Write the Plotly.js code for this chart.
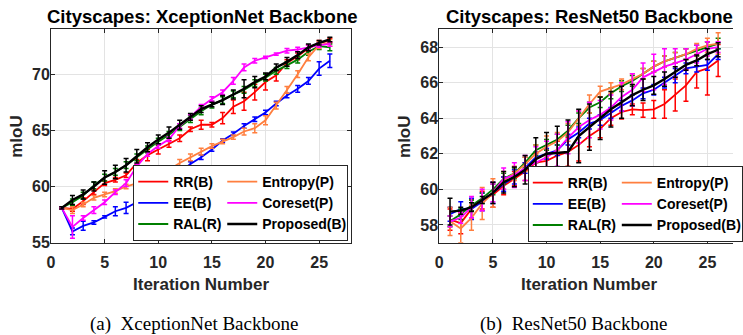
<!DOCTYPE html>
<html>
<head>
<meta charset="utf-8">
<script src="https://cdn.plot.ly/plotly-3.0.1.min.js"></script>
<style>html,body{margin:0;padding:0;background:#fff;}#chart{width:743px;height:335px;}</style>
</head>
<body>
<div id="chart"></div>
<script>
// ---------- data ----------
const iterations = [1,2,3,4,5,6,7,8,9,10,11,12,13,14,15,16,17,18,19,20,21,22,23,24,25,26];
const seriesNames = ['RR(B)','EE(B)','RAL(R)','Entropy(P)','Coreset(P)','Proposed(B)'];

// (a) XceptionNet backbone: mean mIoU
const xcRR       = [58.1,58.0,58.7,59.5,60.3,60.6,61.0,62.1,62.8,63.3,63.8,64.3,65.1,65.5,65.5,66.1,67.1,67.6,68.4,69.3,69.9,71.0,71.6,72.3,72.8,73.0];
const xcEE       = [58.1,56.0,56.5,56.8,57.3,57.8,58.1,58.6,59.3,60.0,60.7,61.3,62.0,62.6,63.3,64.1,64.7,65.4,66.0,66.6,67.4,68.1,68.7,69.4,70.5,71.2];
const xcRAL      = [58.1,58.6,59.2,60.1,60.8,61.3,61.9,62.6,63.3,64.0,64.6,65.3,66.0,66.7,67.3,67.7,68.2,68.6,69.2,69.7,70.3,70.8,71.3,72.0,72.5,72.4];
const xcEntropy  = [58.1,57.9,58.4,59.0,59.3,59.6,60.0,60.3,60.6,61.0,61.5,62.1,62.6,63.1,63.6,64.0,64.4,64.9,65.2,65.9,67.2,68.6,70.0,71.5,72.6,72.8];
const xcCoreset  = [58.1,56.4,57.2,57.9,58.6,59.5,60.3,61.8,62.9,63.6,64.2,65.4,66.2,67.1,67.8,68.4,69.4,70.6,71.2,71.5,71.8,72.1,72.2,72.4,72.6,72.7];
const xcProposed = [58.1,58.8,59.3,60.0,60.8,61.3,61.9,62.7,63.5,64.2,64.8,65.5,66.2,66.9,67.3,67.7,68.2,68.7,69.3,69.8,70.6,71.1,71.7,72.4,72.8,73.1];
// (a) error bar half-widths
const xcRRErr       = [0.1,0.2,0.3,0.2,0.2,0.2,0.2,0.3,0.5,0.4,0.3,0.3,0.2,0.4,0.2,0.5,0.6,0.8,0.7,0.7,0.5,0.3,0.3,0.3,0.2,0.2];
const xcEEErr       = [0.1,0.3,0.4,0.15,0.1,0.4,0.5,0.4,0.3,0.3,0.3,0.15,0.2,0.2,0.15,0.15,0.15,0.2,0.2,0.2,0.2,0.2,0.3,0.3,0.6,0.6];
const xcRALErr      = [0.1,0.3,0.3,0.3,0.3,0.3,0.3,0.3,0.3,0.3,0.3,0.3,0.3,0.3,0.3,0.3,0.3,0.3,0.3,0.3,0.3,0.3,0.3,0.3,0.3,0.3];
const xcEntropyErr  = [0.1,0.3,0.2,0.2,0.2,0.2,0.2,0.2,0.2,0.2,0.3,0.3,0.3,0.3,0.2,0.2,0.2,0.3,0.4,0.4,0.3,0.3,0.3,0.3,0.3,0.3];
const xcCoresetErr  = [0.1,1.0,0.2,0.3,0.2,0.2,0.3,0.2,0.2,0.2,0.2,0.2,0.2,0.2,0.2,0.2,0.3,0.3,0.2,0.1,0.1,0.2,0.2,0.2,0.2,0.2];
const xcProposedErr = [0.1,0.4,0.4,0.4,0.6,0.6,0.6,0.6,0.4,0.4,0.5,0.4,0.3,0.3,0.2,0.4,0.4,0.8,0.5,0.3,0.3,0.4,0.3,0.3,0.2,0.2];

// (b) ResNet50 backbone: mean mIoU
const rnRR       = [58.3,58.1,58.9,59.4,59.7,60.2,60.6,61.0,61.5,61.6,61.9,62.1,62.5,63.0,63.4,64.0,64.35,64.5,64.45,64.5,64.8,65.3,65.85,66.6,66.8,67.25];
const rnEE       = [58.6,58.9,58.9,59.3,59.8,60.3,60.7,61.2,61.8,62.0,62.2,62.8,63.2,63.7,63.9,64.3,64.7,65.0,65.4,65.6,66.0,66.4,66.8,66.9,67.0,67.6];
const rnRAL      = [58.2,58.6,59.1,59.5,60.0,60.6,60.9,61.5,62.2,62.5,62.8,63.3,64.0,64.6,64.9,65.4,65.8,66.1,66.5,66.9,67.2,67.4,67.6,67.8,68.0,68.2];
const rnEntropy  = [58.2,57.8,58.4,59.2,59.8,60.5,60.9,61.4,62.0,62.4,62.7,63.2,64.0,64.8,65.5,65.7,65.9,66.2,66.5,66.9,67.2,67.4,67.6,67.9,68.1,68.2];
const rnCoreset  = [58.2,58.4,59.0,59.4,59.8,60.6,60.8,61.2,61.5,61.8,62.2,62.9,63.5,63.9,64.2,64.6,65.2,65.6,66.3,66.6,66.9,67.1,67.3,67.6,67.9,68.0];
const rnProposed = [58.75,58.8,59.0,59.4,59.8,60.4,60.7,61.1,61.7,62.0,62.05,62.1,63.0,63.5,64.0,64.5,64.9,65.3,65.6,65.85,66.2,66.6,67.0,67.25,67.6,67.85];
// (b) error bar half-widths
const rnRRErr       = [0.6,0.6,0.5,0.5,0.7,0.5,0.4,0.5,0.5,0.6,0.8,0.8,0.9,0.6,0.5,0.4,0.4,0.3,0.4,0.5,0.8,0.9,0.9,0.9,1.5,0.9];
const rnEEErr       = [0.4,0.4,0.6,0.5,0.6,0.4,0.4,0.3,0.3,0.3,0.3,0.3,0.3,0.3,0.3,0.3,0.3,0.3,0.3,0.3,0.3,0.4,0.3,0.3,0.3,0.3];
const rnRALErr      = [0.3,0.3,0.3,0.3,0.3,0.3,0.3,0.3,0.3,0.3,0.3,0.3,0.3,0.3,0.3,0.3,0.3,0.3,0.3,0.3,0.3,0.3,0.3,0.3,0.3,0.3];
const rnEntropyErr  = [0.8,0.8,0.7,0.9,0.8,0.5,0.4,0.4,0.5,0.6,0.5,0.5,0.4,0.5,0.3,0.3,0.3,0.3,0.3,0.3,0.3,0.3,0.3,0.3,0.4,0.6];
const rnCoresetErr  = [0.3,0.3,0.6,0.6,0.5,0.6,0.7,0.7,0.9,0.9,0.9,0.9,0.9,1.0,0.8,0.7,0.8,0.9,0.8,1.0,1.0,0.8,0.6,0.5,0.4,0.3];
const rnProposedErr = [0.75,0.2,0.25,0.2,0.6,0.6,0.55,0.8,1.2,1.2,1.5,1.8,1.5,1.3,1.2,1.0,0.9,0.6,0.6,0.5,0.4,0.3,0.3,0.3,0.3,0.4];

const xTicks = [0,5,10,15,20,25];
const yTicksA = [55,60,65,70];
const yTicksB = [58,60,62,64,66,68];
const titleA = 'Cityscapes: XceptionNet Backbone';
const titleB = 'Cityscapes: ResNet50 Backbone';
const captionA = '(a)  XceptionNet Backbone';
const captionB = '(b)  ResNet50 Backbone';
const xLabel = 'Iteration Number';
const yLabel = 'mIoU';

// ---------- styling ----------
const colors = ['#ff0000','#0000ff','#007f00','#ff7f3f','#ff00ff','#000000'];
const widths = [1.8,1.8,1.8,1.8,1.8,2.4];
const groupsOf = [0,0,0,1,1,1];
const entryWidths = [44,44,44,80,80,80];
const FONT = 'Liberation Sans, Arial, sans-serif';
const SERIF = 'Liberation Serif, Times New Roman, serif';
const W = 743, H = 335;

const seriesA = [xcRR,xcEE,xcRAL,xcEntropy,xcCoreset,xcProposed];
const errA = [xcRRErr,xcEEErr,xcRALErr,xcEntropyErr,xcCoresetErr,xcProposedErr];
const seriesB = [rnRR,rnEE,rnRAL,rnEntropy,rnCoreset,rnProposed];
const errB = [rnRRErr,rnEEErr,rnRALErr,rnEntropyErr,rnCoresetErr,rnProposedErr];

const traces = [];
function addTraces(series, errs, xa, ya, legendId, prefix) {
  series.forEach((vals, i) => {
    traces.push({
      type: 'scatter', mode: 'lines',
      x: iterations, y: vals,
      xaxis: xa, yaxis: ya,
      name: seriesNames[i],
      legend: legendId,
      legendgroup: prefix + groupsOf[i],
      legendwidth: entryWidths[i],
      line: {color: colors[i], width: widths[i]},
      error_y: {type: 'data', array: errs[i], visible: true, color: colors[i], thickness: 1.5, width: 2.5},
      hoverinfo: 'skip'
    });
  });
}
addTraces(seriesA, errA, 'x', 'y', 'legend', 'a');
addTraces(seriesB, errB, 'x2', 'y2', 'legend2', 'b');

const yTop = 1 - 29.3 / H, yBot = 1 - 242.7 / H;
const axisCommon = {
  showgrid: true, gridcolor: '#e3e3e3', gridwidth: 1,
  showline: true, linecolor: '#262626', linewidth: 1,
  ticks: 'inside', ticklen: 4, tickcolor: '#262626', tickwidth: 1,
  tickfont: {family: FONT, size: 16, color: '#262626', weight: 'bold'},
  zeroline: false, automargin: false, fixedrange: true
};
const legendCommon = {
  orientation: 'h', traceorder: 'grouped', tracegroupgap: 0,
  bgcolor: '#ffffff', bordercolor: '#262626', borderwidth: 1,
  font: {family: FONT, size: 14, color: '#000000', weight: 'bold'},
  itemwidth: 30, yanchor: 'bottom'
};
const labelFont = {family: FONT, size: 17, color: '#262626', weight: 'bold'};
const titleFont = {family: FONT, size: 18.5, color: '#000000', weight: 'bold'};
const capFont = {family: SERIF, size: 19, color: '#000000'};

function note(text, px, py, font, extra) {
  return Object.assign({text: text, xref: 'paper', yref: 'paper', x: px / W, y: 1 - py / H,
    xanchor: 'center', yanchor: 'middle', showarrow: false, font: font}, extra || {});
}

const layout = {
  width: W, height: H,
  margin: {l: 0, r: 0, t: 0, b: 0},
  paper_bgcolor: '#ffffff', plot_bgcolor: '#ffffff',
  showlegend: true,
  xaxis: Object.assign({}, axisCommon, {domain: [51.7 / W, 356.1 / W], range: [0, 28], tickvals: xTicks, mirror: 'ticks', anchor: 'y', ticklabelstandoff: 5}),
  yaxis: Object.assign({}, axisCommon, {domain: [yBot, yTop], range: [55, 74], tickvals: yTicksA, mirror: 'ticks', anchor: 'x', ticklabelstandoff: -3}),
  xaxis2: Object.assign({}, axisCommon, {domain: [445.3 / W, 1], range: [0, (W - 445.3) / 10.87], tickvals: xTicks, mirror: 'ticks', anchor: 'y2', ticklabelstandoff: 5}),
  yaxis2: Object.assign({}, axisCommon, {domain: [yBot, yTop], range: [57, 69], tickvals: yTicksB, mirror: false, anchor: 'x2', ticklabelstandoff: -3}),
  legend: Object.assign({}, legendCommon, {x: 353 / W, xanchor: 'right', y: 1 - 241 / H}),
  legend2: Object.assign({}, legendCommon, {x: 535 / W, xanchor: 'left', y: 1 - 242 / H}),
  annotations: [
    note(titleA, 205, 16, titleFont),
    note(titleB, 597.5, 16, titleFont),
    note(xLabel, 204, 284, labelFont),
    note(xLabel, 597.5, 284, labelFont),
    note(yLabel, 16, 136, labelFont, {textangle: -90}),
    note(yLabel, 409.5, 136, labelFont, {textangle: -90}),
    note(captionA, 197, 324, capFont),
    note(captionB, 581, 324, capFont)
  ]
};

Plotly.newPlot('chart', traces, layout, {staticPlot: true, displayModeBar: false});
</script>
</body>
</html>
